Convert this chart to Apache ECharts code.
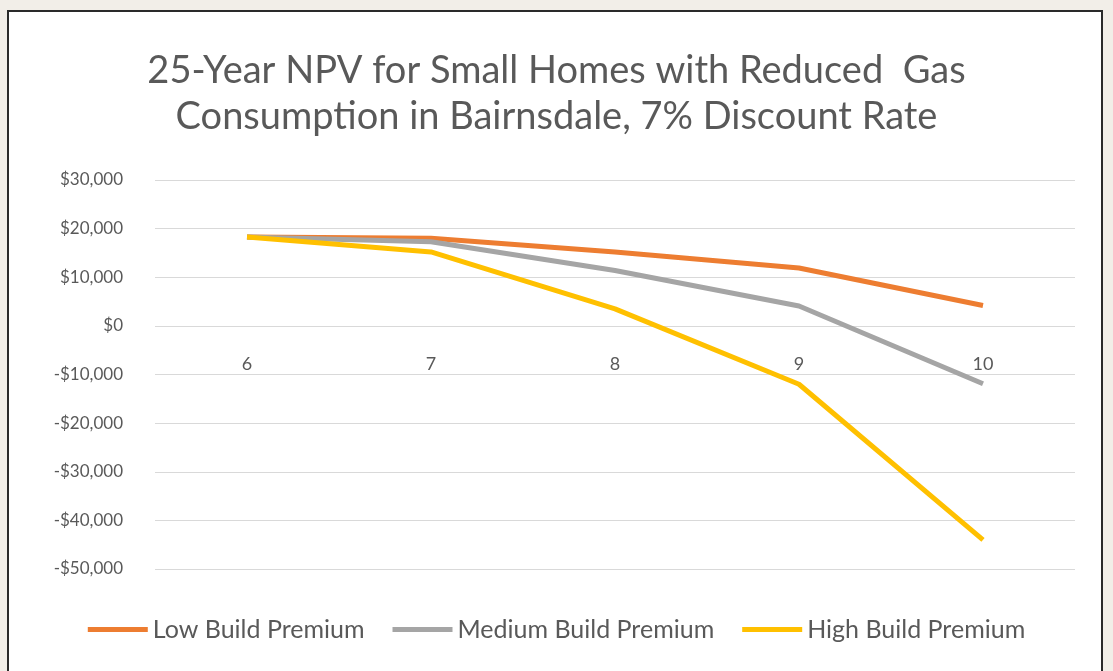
<!DOCTYPE html>
<html>
<head>
<meta charset="utf-8">
<script src="https://cdn.jsdelivr.net/npm/echarts@6/dist/echarts.min.js"></script>
<style>
  html, body { margin: 0; padding: 0; background: #f2eee8; }
  #frame {
    position: absolute; left: 7px; top: 10px; width: 1092px; height: 680px;
    border: 2px solid #2a2a2a; background: #ffffff;
  }
  #main { position: absolute; left: 0; top: 0; width: 1113px; height: 671px; }
</style>
</head>
<body>
<div id="frame"></div>
<div id="main"></div>
<script>
// discount rate scenarios on the x axis
var categories = ['6', '7', '8', '9', '10'];
var lowPremium = [18300, 18000, 15200, 11900, 4200];
var mediumPremium = [18300, 17300, 11400, 4100, -11900];
var highPremium = [18300, 15200, 3500, -12000, -44000];

var font = 'Lato, "Open Sans", sans-serif';

function money(v) {
  var s = Math.abs(v).toString().replace(/\B(?=(\d{3})+(?!\d))/g, ',');
  return (v < 0 ? '-$' : '$') + s;
}

var chart = echarts.init(document.getElementById('main'));
var option = {
  backgroundColor: 'transparent',
  title: {
    text: '25-Year NPV for Small Homes with Reduced  Gas\nConsumption in Bairnsdale, 7% Discount Rate',
    left: 'center',
    top: 43,
    textStyle: {
      fontFamily: font,
      fontSize: 38,
      fontWeight: 'normal',
      color: '#595959',
      lineHeight: 46
    }
  },
  legend: {
    bottom: 24,
    left: 'center',
    icon: 'rect',
    itemWidth: 60,
    itemHeight: 5,
    itemGap: 28,
    textStyle: { fontFamily: font, fontSize: 25, color: '#595959' },
    data: ['Low Build Premium', 'Medium Build Premium', 'High Build Premium']
  },
  grid: { left: 155, right: 38, top: 180, bottom: 102 },
  xAxis: {
    type: 'category',
    data: categories,
    boundaryGap: true,
    position: 'bottom',
    // labels hang just below the $0 line
    offset: -244,
    axisLine: { show: false },
    axisTick: { show: false },
    axisLabel: { margin: 30, fontFamily: font, fontSize: 18, color: '#595959' }
  },
  yAxis: {
    type: 'value',
    min: -50000,
    max: 30000,
    interval: 10000,
    axisLine: { show: false },
    axisTick: { show: false },
    splitLine: { lineStyle: { color: '#d9d9d9', width: 1 } },
    axisLabel: {
      margin: 32,
      fontFamily: font,
      fontSize: 17,
      color: '#595959',
      formatter: money
    }
  },
  series: [
    {
      name: 'Low Build Premium', type: 'line', data: lowPremium,
      symbol: 'none', lineStyle: { width: 5, color: '#ed7d31' }, itemStyle: { color: '#ed7d31' }
    },
    {
      name: 'Medium Build Premium', type: 'line', data: mediumPremium,
      symbol: 'none', lineStyle: { width: 5, color: '#a5a5a5' }, itemStyle: { color: '#a5a5a5' }
    },
    {
      name: 'High Build Premium', type: 'line', data: highPremium,
      symbol: 'none', lineStyle: { width: 5, color: '#ffc000' }, itemStyle: { color: '#ffc000' }
    }
  ]
};
chart.setOption(option);
</script>
</body>
</html>
